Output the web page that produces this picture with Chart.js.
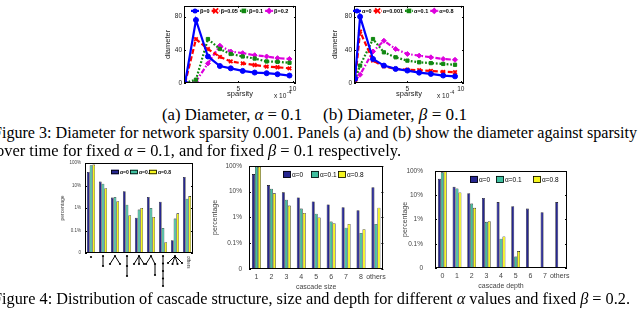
<!DOCTYPE html>
<html><head><meta charset="utf-8">
<script src="https://cdn.jsdelivr.net/npm/chart.js@4.4.1/dist/chart.umd.min.js"></script>
<style>
html,body{margin:0;padding:0;background:#fff;}
#root{position:relative;width:640px;height:311px;overflow:hidden;background:#fff;}
#root canvas{position:absolute;}
.cap{position:absolute;font-family:"Liberation Serif","Times New Roman",serif;font-size:16px;line-height:16px;white-space:nowrap;color:#000;transform-origin:0 0;}
.cap i{font-style:italic;}
</style></head>
<body>
<div id="root">
<canvas id="cA" width="160" height="105" style="left:150px;top:0px"></canvas>
<canvas id="cB" width="160" height="105" style="left:320px;top:0px"></canvas>
<canvas id="cS" width="150" height="140" style="left:50px;top:155px"></canvas>
<canvas id="cZ" width="185" height="140" style="left:205px;top:155px"></canvas>
<canvas id="cD" width="180" height="140" style="left:395px;top:155px"></canvas>
<div class="cap" data-w="140" style="left:162px;top:107px">(a) Diameter, <i>α</i> = 0.1</div>
<div class="cap" data-w="144" style="left:323px;top:107px">(b) Diameter, <i>β</i> = 0.1</div>
<div class="cap" data-w="644" style="left:-7px;top:125px">Figure 3: Diameter for network sparsity 0.001. Panels (a) and (b) show the diameter against sparsity</div>
<div class="cap" data-w="405" style="left:-4px;top:143px">over time for fixed <i>α</i> = 0.1, and for fixed <i>β</i> = 0.1 respectively.</div>
<div class="cap" data-w="637" style="left:-7px;top:291px">Figure 4: Distribution of cascade structure, size and depth for different <i>α</i> values and fixed <i>β</i> = 0.2.</div>
</div>
<script>
// ---------- data ----------
const topYTicks = [0, 40, 80];
const topXTicks = [5, 10];

const sparsityA   = [0.1, 1.1, 2.2, 3.3, 4.3, 5.4, 6.5, 7.6, 8.6, 9.7];
const diamBeta0   = [0, 76, 32, 20.5, 17.7, 14.6, 12.6, 11.8, 10.6, 9];
const diamBeta005 = [0, 53, 41, 31.5, 26, 23.6, 21.7, 19.7, 19, 17.7];
const diamBeta01  = [0, 4, 53, 41, 35, 32, 29.5, 26, 25.6, 24.4];
const diamBeta02  = [0, 2, 23.6, 45, 38, 36, 33.5, 32, 30, 29];

const sparsityB     = [0.1, 0.57, 1.78, 2.8, 3.9, 5.0, 6.1, 7.2, 8.35, 9.46];
const diamAlpha0    = [5, 80, 29, 21, 17, 15, 12.5, 11, 9, 8];
const diamAlpha0001 = [3, 62, 27, 20, 17, 16, 15.5, 14.6, 13.5, 13];
const diamAlpha01   = [4, 21, 53, 37, 31, 27, 25, 24, 23, 22];
const diamAlpha08   = [3, 10, 38, 51, 41, 35, 33, 31, 29, 28];

const pctTickValues = [0.01, 0.1, 1, 10, 100];
const pctTickLabels = ['0', '0.1%', '1%', '10%', '100%'];
const alphaLabels = ['α=0', 'α=0.1', 'α=0.8'];

const structureCats = ['single', 'chain-2', 'fork-2', 'chain-3', 'fork-3', 'fork-chain', 'chain-5', 'fork-4', 'others'];
const structA0  = [40, 15, 2.9, 5.6, 0.37, 3.1, 1.9, 0.037, 24];
const structA01 = [80, 12, 3.1, 1.4, 0.85, 1.0, 0.13, 0.34, 2.6];
const structA08 = [85, 7.6, 2.0, 0.48, 1.0, 0.4, 0.03, 0.58, 3.4];

const sizeCats = ['1', '2', '3', '4', '5', '6', '7', '8', 'others'];
const sizeA0  = [48, 18, 9.4, 6, 4.2, 3.2, 2.5, 1.9, 15];
const sizeA01 = [93, 13, 4.9, 2.2, 1.4, 0.69, 0.4, 0.25, 0.56];
const sizeA08 = [93, 8.6, 2.9, 1.5, 1.0, 0.6, 0.56, 0.35, 2.4];

const depthCats = ['0', '1', '2', '3', '4', '5', '6', '7', 'others'];
const depthA0  = [47, 22, 12, 7.7, 5.2, 3.5, 2.8, 2.0, 5.2];
const depthA01 = [87, 19, 4.5, 0.8, 0.16, 0.03, null, null, null];
const depthA08 = [95, 13, 3.0, 0.85, 0.2, 0.05, null, null, null];

// ---------- styling helpers ----------
Chart.defaults.font.family = '"Liberation Sans", Arial, sans-serif';
Chart.defaults.animation = false;

document.querySelectorAll('.cap').forEach(el => {
  const w = +el.dataset.w, cur = el.getBoundingClientRect().width;
  el.style.transform = 'scaleX(' + (w / cur) + ')';
});

function drawMarker(ctx, style, x, y, r, color) {
  ctx.save(); ctx.fillStyle = color; ctx.strokeStyle = color; ctx.setLineDash([]);
  ctx.beginPath();
  if (style === 'circle') { ctx.lineWidth = 1; ctx.arc(x, y, r, 0, Math.PI * 2); ctx.fill(); }
  else if (style === 'rect') { ctx.rect(x - r, y - r, 2 * r, 2 * r); ctx.fill(); }
  else if (style === 'rectRot') { const k = r * 1.35; ctx.moveTo(x, y - k); ctx.lineTo(x + k, y); ctx.lineTo(x, y + k); ctx.lineTo(x - k, y); ctx.closePath(); ctx.fill(); }
  else if (style === 'crossRot') { ctx.lineWidth = 1.8; ctx.moveTo(x - r, y - r); ctx.lineTo(x + r, y + r); ctx.moveTo(x + r, y - r); ctx.lineTo(x - r, y + r); ctx.stroke(); }
  ctx.restore();
}

const boxPlugin = {
  id: 'box',
  afterDraw(chart, args, o) {
    const { ctx, chartArea: a, scales } = chart;
    ctx.save();
    ctx.strokeStyle = o.color || '#000'; ctx.lineWidth = o.lw || 1; ctx.setLineDash([]);
    ctx.strokeRect(Math.round(a.left) + 0.5, Math.round(a.top) + 0.5, Math.round(a.right - a.left) - 1, Math.round(a.bottom - a.top) - 1);
    const t = o.tick || 2;
    ctx.beginPath();
    if (scales.x.type === 'linear') {
      scales.x.ticks.forEach(tk => {
        const px = Math.round(scales.x.getPixelForValue(tk.value)) + 0.5;
        ctx.moveTo(px, a.bottom); ctx.lineTo(px, a.bottom - t);
        ctx.moveTo(px, a.top); ctx.lineTo(px, a.top + t);
      });
    }
    scales.y.ticks.forEach(tk => {
      const py = Math.round(scales.y.getPixelForValue(tk.value)) + 0.5;
      ctx.moveTo(a.left, py); ctx.lineTo(a.left + t, py);
      ctx.moveTo(a.right, py); ctx.lineTo(a.right - t, py);
    });
    ctx.stroke();
    ctx.restore();
  }
};

const legendPlugin = {
  id: 'inLegend',
  afterDraw(chart, args, o) {
    if (!o || !o.kind) return;
    const { ctx, chartArea: a } = chart;
    ctx.save();
    ctx.font = (o.bold ? 'bold ' : '') + o.size + 'px "Liberation Sans", Arial, sans-serif';
    ctx.textBaseline = 'middle'; ctx.textAlign = 'left';
    const y = a.top + o.y;
    let x = a.left + o.x;
    chart.data.datasets.forEach((ds, i) => {
      const x0 = o.cols ? a.left + o.cols[i] : x;
      let tx;
      if (o.kind === 'line') {
        ctx.strokeStyle = ds.borderColor; ctx.lineWidth = ds.borderWidth;
        ctx.setLineDash(o.dashes ? o.dashes[i] : []);
        ctx.beginPath(); ctx.moveTo(x0, y); ctx.lineTo(x0 + o.sample, y); ctx.stroke();
        drawMarker(ctx, ds.pointStyle, x0 + o.sample / 2, y, ds.pointRadius, ds.borderColor);
        tx = x0 + o.sample + 1;
      } else {
        ctx.fillStyle = ds.backgroundColor; ctx.fillRect(x0, y - o.bh / 2, o.bw, o.bh);
        ctx.strokeStyle = '#000'; ctx.lineWidth = 0.8; ctx.setLineDash([]);
        ctx.strokeRect(x0 + 0.5, y - o.bh / 2 + 0.5, o.bw - 1, o.bh - 1);
        tx = x0 + o.bw + 1;
      }
      ctx.fillStyle = o.textColor || '#000';
      ctx.fillText(ds.label, tx, y + 0.5);
      x = tx + ctx.measureText(ds.label).width + (o.gap || 3);
    });
    ctx.restore();
  }
};

const expPlugin = {
  id: 'expLabel',
  afterDraw(chart, args, o) {
    if (!o || !o.text) return;
    const { ctx, chartArea: a } = chart;
    ctx.save();
    ctx.fillStyle = '#222'; ctx.textBaseline = 'alphabetic'; ctx.textAlign = 'left';
    ctx.font = '6.5px "Liberation Sans", Arial, sans-serif';
    const x = a.right + o.dx, y = a.bottom + o.dy;
    ctx.fillText(o.text, x, y);
    const w = ctx.measureText(o.text).width;
    ctx.font = '5px "Liberation Sans", Arial, sans-serif';
    ctx.fillText(o.sup, x + w + 0.5, y - 4);
    ctx.restore();
  }
};

// tree glyphs used as tick labels of the structure chart (node lists, relative units)
const structureGlyphs = [
  { nodes: [[0, 1]], edges: [] },
  { nodes: [[0, 0], [0, 10]], edges: [[0, 1]] },
  { nodes: [[0, 0], [-5, 8], [5, 8]], edges: [[0, 1], [0, 2]] },
  { nodes: [[0, 0], [0, 10], [0, 20]], edges: [[0, 1], [1, 2]] },
  { nodes: [[0, 0], [-5, 8], [0, 8], [5, 8]], edges: [[0, 1], [0, 2], [0, 3]] },
  { nodes: [[0, 0], [-5, 8], [4, 8], [4, 19]], edges: [[0, 1], [0, 2], [2, 3]] },
  { nodes: [[0, 0], [0, 7.5], [0, 15], [0, 22.5], [0, 30]], edges: [[0, 1], [1, 2], [2, 3], [3, 4]] },
  { nodes: [[0, 0], [-7, 7], [-2.5, 8], [2.5, 8], [7, 7]], edges: [[0, 1], [0, 2], [0, 3], [0, 4]] },
  { text: true }
];

const glyphPlugin = {
  id: 'glyphs',
  afterDraw(chart, args, o) {
    if (!o || !o.shapes) return;
    const { ctx, chartArea: a, scales: { x } } = chart;
    ctx.save(); ctx.strokeStyle = '#000'; ctx.fillStyle = '#000'; ctx.lineWidth = 1;
    x.ticks.forEach((t, i) => {
      const cx = x.getPixelForTick(i), top = a.bottom + o.offset;
      const g = o.shapes[i];
      if (g.text) {
        ctx.save();
        ctx.translate(cx + 1.5, top);
        ctx.rotate(Math.PI / 2);
        ctx.font = '4.5px "Liberation Sans", Arial, sans-serif';
        ctx.textBaseline = 'middle'; ctx.textAlign = 'left';
        ctx.fillStyle = '#333';
        ctx.fillText(chart.data.labels[i], 0, 0);
        ctx.restore();
        return;
      }
      ctx.beginPath();
      g.edges.forEach(([p, q]) => {
        ctx.moveTo(cx + g.nodes[p][0], top + g.nodes[p][1]);
        ctx.lineTo(cx + g.nodes[q][0], top + g.nodes[q][1]);
      });
      ctx.stroke();
      g.nodes.forEach(n => { ctx.beginPath(); ctx.arc(cx + n[0], top + n[1], 1.1, 0, Math.PI * 2); ctx.fill(); });
    });
    ctx.restore();
  }
};

// ---------- line charts ----------
const lineColors = ['#0000ff', '#ff0000', '#118811', '#dd00dd'];
const lineDashes = [[], [5, 2.5], [1.8, 1.8], [5, 2, 1.5, 2]];
const lineMarkers = ['circle', 'crossRot', 'rect', 'rectRot'];
const lineRadius = [2.5, 2.5, 2.3, 2.5];

function lineChart(id, xs, series, labels, padRight, legendOpts, titlePadY, expDx) {
  const datasets = series.map((ys, i) => ({
    label: labels[i],
    data: xs.map((x, j) => ({ x, y: ys[j] })),
    borderColor: lineColors[i], backgroundColor: lineColors[i],
    pointBackgroundColor: lineColors[i], pointBorderColor: lineColors[i],
    borderWidth: 2.2, borderDash: lineDashes[i], pointStyle: lineMarkers[i],
    pointRadius: lineRadius[i], pointBorderWidth: i === 1 ? 1.8 : 1, tension: 0, fill: false
  }));
  return new Chart(document.getElementById(id), {
    type: 'line',
    data: { datasets },
    options: {
      responsive: false, animation: false,
      layout: { padding: { top: 3, right: padRight, left: 0, bottom: 0 } },
      plugins: {
        legend: { display: false }, tooltip: { enabled: false },
        box: { tick: 2 },
        inLegend: Object.assign({ kind: 'line', size: 5.5, bold: true, sample: 8, gap: 2, y: 5, dashes: lineDashes }, legendOpts),
        expLabel: { text: 'x 10', sup: '-4', dx: expDx, dy: 15 }
      },
      scales: {
        x: {
          type: 'linear', min: 0, max: 10.3,
          afterBuildTicks: s => { s.ticks = topXTicks.map(v => ({ value: v })); },
          ticks: { font: { size: 6.5 }, color: '#222', padding: 2, maxRotation: 0 },
          grid: { display: false, drawTicks: false }, border: { display: false },
          title: { display: true, text: 'sparsity', font: { size: 7.5 }, color: '#222', padding: { top: 0, bottom: 6.5 } },
          afterFit: s => { s.height = 22; }
        },
        y: {
          type: 'linear', min: 0, max: 93,
          afterBuildTicks: s => { s.ticks = topYTicks.map(v => ({ value: v })); },
          ticks: { font: { size: 6.5 }, color: '#222', padding: 2, autoSkip: false },
          grid: { display: false, drawTicks: false }, border: { display: false },
          title: { display: true, text: 'diameter', font: { size: 7.5 }, color: '#222', padding: { top: titlePadY, bottom: 0 } },
          afterFit: s => { s.width = 34; }
        }
      }
    },
    plugins: [boxPlugin, legendPlugin, expPlugin]
  });
}

lineChart('cA', sparsityA, [diamBeta0, diamBeta005, diamBeta01, diamBeta02], ['β=0', 'β=0.05', 'β=0.1', 'β=0.2'], 14, { x: 7 }, 13.5, -22);
lineChart('cB', sparsityB, [diamAlpha0, diamAlpha0001, diamAlpha01, diamAlpha08], ['α=0', 'α=0.001', 'α=0.1', 'α=0.8'], 16, { x: -1 }, 10.5, -27);

// ---------- bar charts ----------
const barColors = ['#262690', '#3fbf9f', '#f5f51e'];

function barChart(id, cats, series, cfg) {
  const datasets = series.map((vals, i) => ({
    label: alphaLabels[i], data: vals,
    backgroundColor: barColors[i], borderColor: '#000', borderWidth: 0.6,
    categoryPercentage: cfg.catPct, barPercentage: 1
  }));
  return new Chart(document.getElementById(id), {
    type: 'bar',
    data: { labels: cats, datasets },
    options: {
      responsive: false, animation: false,
      layout: { padding: { top: cfg.padTop, right: cfg.padRight, left: 0, bottom: 0 } },
      plugins: {
        legend: { display: false }, tooltip: { enabled: false },
        box: { tick: 2 },
        inLegend: cfg.legend,
        glyphs: cfg.glyphs || {}
      },
      scales: {
        x: {
          type: 'category',
          ticks: { display: !cfg.glyphs, font: { size: cfg.tickSize }, color: '#444', padding: cfg.xPad, maxRotation: 0, autoSkip: false },
          grid: { display: false, drawTicks: false }, border: { display: false },
          title: { display: !!cfg.xTitle, text: cfg.xTitle || '', font: { size: 7 }, color: '#444', padding: { top: 0, bottom: cfg.xTitlePad } },
          afterFit: s => { s.height = cfg.xH; }
        },
        y: {
          type: 'logarithmic', min: 0.01, max: 100,
          afterBuildTicks: s => { s.ticks = pctTickValues.map(v => ({ value: v })); },
          ticks: { font: { size: cfg.ySize }, color: '#444', padding: cfg.yPad, autoSkip: false, callback: (v, i) => pctTickLabels[i] },
          grid: { display: false, drawTicks: false }, border: { display: false },
          title: { display: true, text: 'percentage', font: { size: cfg.yTitleSize }, color: '#444', padding: { top: cfg.yTitlePad, bottom: 0 } },
          afterFit: s => { s.width = cfg.yW; }
        }
      }
    },
    plugins: [boxPlugin, legendPlugin, glyphPlugin]
  });
}

barChart('cS', structureCats, [structA0, structA01, structA08], {
  catPct: 0.68, padTop: 8, padRight: 7, xH: 42, yW: 35, ySize: 4.5, yPad: 4, yTitleSize: 5, yTitlePad: 10,
  tickSize: 5, xPad: 2,
  legend: { kind: 'bar', size: 5, bold: true, bw: 8, bh: 4.5, y: 9, cols: [26, 45, 64] },
  glyphs: { shapes: structureGlyphs, offset: 3 }
});
barChart('cZ', sizeCats, [sizeA0, sizeA01, sizeA08], {
  catPct: 0.6, padTop: 8, padRight: 6, xH: 26, yW: 44, ySize: 6.5, yPad: 7, yTitleSize: 7, yTitlePad: 5.5,
  tickSize: 7, xPad: 4, xTitle: 'cascade size', xTitlePad: 3.5,
  legend: { kind: 'bar', size: 6.5, bold: false, bw: 8, bh: 7, y: 8.5, cols: [34, 62, 89] }
});
barChart('cD', depthCats, [depthA0, depthA01, depthA08], {
  catPct: 0.6, padTop: 7, padRight: 8, xH: 27, yW: 40, ySize: 6.5, yPad: 12, yTitleSize: 7, yTitlePad: 5.5,
  tickSize: 7, xPad: 4, xTitle: 'cascade depth', xTitlePad: 4.5,
  legend: { kind: 'bar', size: 6.5, bold: false, bw: 8, bh: 7, y: 8.5, cols: [35, 61, 98] }
});
</script>
</body></html>
